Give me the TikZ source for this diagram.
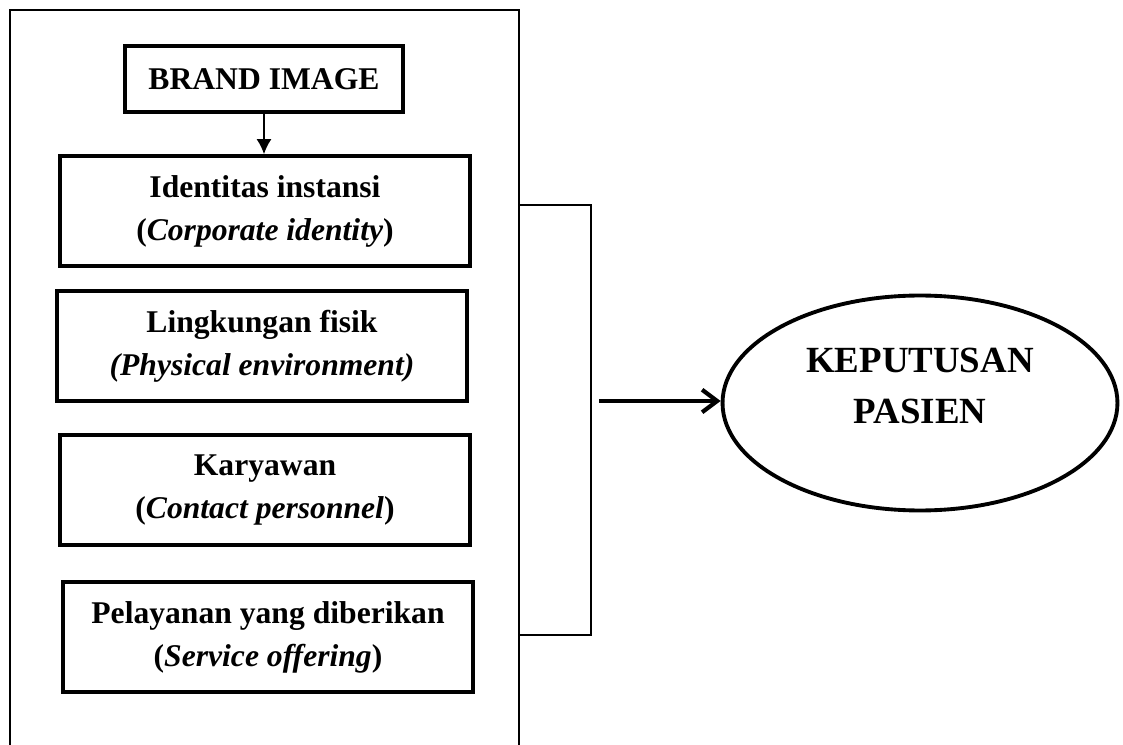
\documentclass[tikz,border=0pt]{standalone}
\usepackage{fontspec}
\setmainfont{Liberation Serif}
\usetikzlibrary{arrows.meta,shapes.geometric}

\begin{document}
\begin{tikzpicture}[
        box/.style={draw, line width=2.2pt, minimum width=8.2cm, minimum height=2.2cm,
            inner sep=0pt, align=center, font=\fontsize{18}{24.5}\selectfont\bfseries},
        thin line/.style={line width=0.9pt},
    ]
    \def\F{0.02} % scaling factor

    \useasboundingbox (0, 0) rectangle (\F*1123, -\F*745);

    % open frame round the dimensions
    \draw[thin line] (\F*10, -\F*745) -- (\F*10, -\F*10) -- (\F*519, -\F*10) -- (\F*519, -\F*745);

    \node[box, minimum width=5.55cm, minimum height=1.32cm] (brand) at (\F*264, -\F*79) {BRAND IMAGE};

    \foreach \nm/\x/\y/\txt in {
            ident/265/211/{Identitas instansi\\(\textit{Corporate identity})},
            ling/262/346/{Lingkungan fisik\\\textit{(Physical environment)}},
            kar/265/490/{Karyawan\\(\textit{Contact personnel})},
            pel/268/637/{Pelayanan yang diberikan\\(\textit{Service offering})}}
        \node[box] (\nm) at (\F*\x, -\F*\y) {\txt};

    \draw[line width=0.8pt, -{Latex[length=0.3cm, width=0.3cm]}] (brand.south) -- (brand.south |- ident.north);

    % bracket and result
    \coordinate (bt) at (\F*519, -\F*205);
    \coordinate (bb) at (\F*519, -\F*635);
    \draw[thin line] (bt) -- ++(\F*72, 0) |- (bb);

    \node[draw, ellipse, line width=2.2pt, minimum width=7.9cm, minimum height=4.3cm] (kep) at (\F*920, -\F*403) {};
    \node[font=\fontsize{21}{28.5}\selectfont\bfseries, align=center] (keptxt) at (\F*920, -\F*386) {KEPUTUSAN\\PASIEN};

    \coordinate (arr) at (\F*599, -\F*401);
    \draw[line width=2.4pt, -{Straight Barb[length=0.3cm, width=0.45cm]}] (arr) -- (arr -| kep.west);
\end{tikzpicture}
\end{document}
